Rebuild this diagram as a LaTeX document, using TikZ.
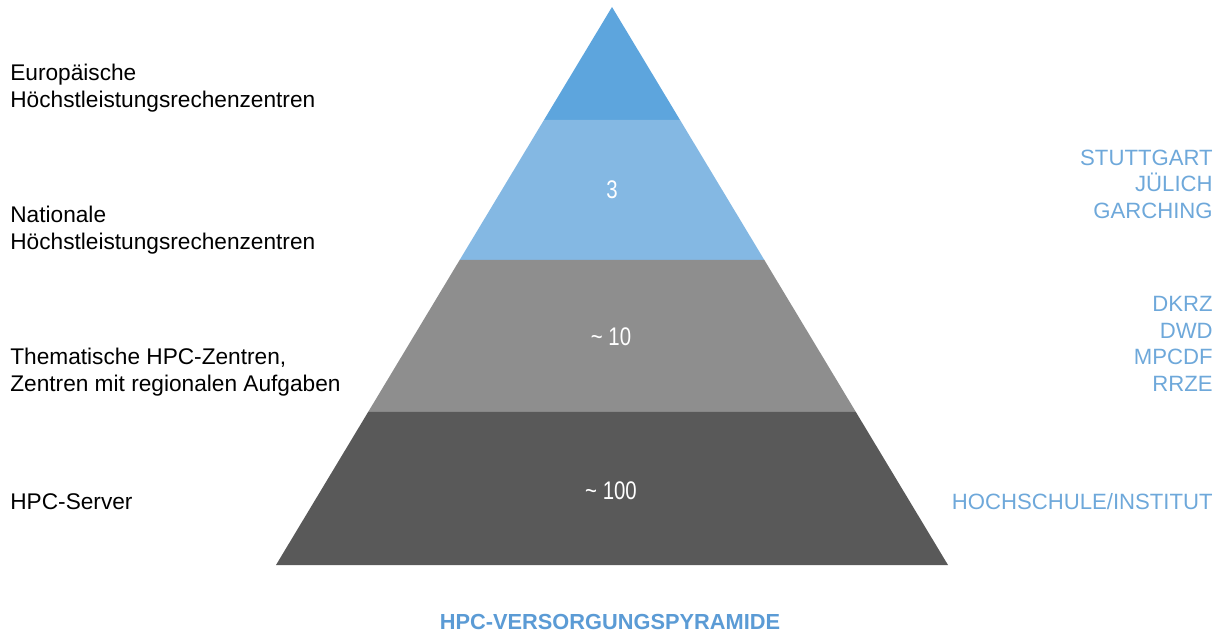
\documentclass[tikz,border=0pt]{standalone}
\usepackage{fontspec}
\setmainfont{Liberation Sans}
\usepackage{xcolor}
\usepackage{tikz}
\usetikzlibrary{positioning,calc}

\definecolor{euroblue}{HTML}{5DA5DD}
\definecolor{natblue}{HTML}{84B8E3}
\definecolor{themgray}{HTML}{8E8E8E}
\definecolor{servgray}{HTML}{595959}
\definecolor{sitetext}{HTML}{6EA8DA}
\definecolor{titletext}{HTML}{5B9BD5}

\tikzset{
  tierlabel/.style={anchor=west, inner sep=0pt, align=left, font=\fontsize{12.9}{15.1}\selectfont},
  sitelabel/.style={anchor=east, inner sep=0pt, align=right, text=sitetext, font=\fontsize{12.6}{15.1}\selectfont},
  countlabel/.style={inner sep=0pt, text=white, xscale=0.8, transform shape, font=\fontsize{14.5}{16}\selectfont}
}

\begin{document}
\begin{tikzpicture}
\useasboundingbox (0, 0) rectangle (24.5, 12.72);
\coordinate (apex) at (12.24, 12.58);
\coordinate (baseL) at (5.52, 1.42);
\coordinate (baseR) at (18.96, 1.42);
\foreach \a/\b/\col in {0/0.2025/euroblue, 0.2025/0.4534/natblue, 0.4534/0.7258/themgray, 0.7258/1/servgray}
  \fill[\col] ($(apex)!\a!(baseL)$) -- ($(apex)!\b!(baseL)$) -- ($(apex)!\b!(baseR)$) -- ($(apex)!\a!(baseR)$) -- cycle;
\node[countlabel] (n3) at (12.24, 8.92) {3};
\node[countlabel] (n10) at (12.22, 5.98) {\textasciitilde{} 10};
\node[countlabel] (n100) at (12.22, 2.90) {\textasciitilde{} 100};
\node[tierlabel] (euro) at (0.2, 10.96) {Europäische\\Höchstleistungsrechenzentren};
\node[tierlabel] (nat) at (0.2, 8.12) {Nationale\\Höchstleistungsrechenzentren};
\node[tierlabel] (them) at (0.2, 5.28) {Thematische HPC-Zentren,\\Zentren mit regionalen Aufgaben};
\node[tierlabel] (serv) at (0.2, 2.68) {HPC-Server};
\node[sitelabel] (natsites) at (24.26, 9.04) {STUTTGART\\JÜLICH\\GARCHING};
\node[sitelabel] (themsites) at (24.26, 5.84) {DKRZ\\DWD\\MPCDF\\RRZE};
\node[sitelabel] (servsites) at (24.26, 2.68) {HOCHSCHULE/INSTITUT};
\node[inner sep=0pt, text=titletext, font=\bfseries\fontsize{12.4}{14}\selectfont] (title) at (12.2, 0.28) {HPC-VERSORGUNGSPYRAMIDE};
\end{tikzpicture}
\end{document}
